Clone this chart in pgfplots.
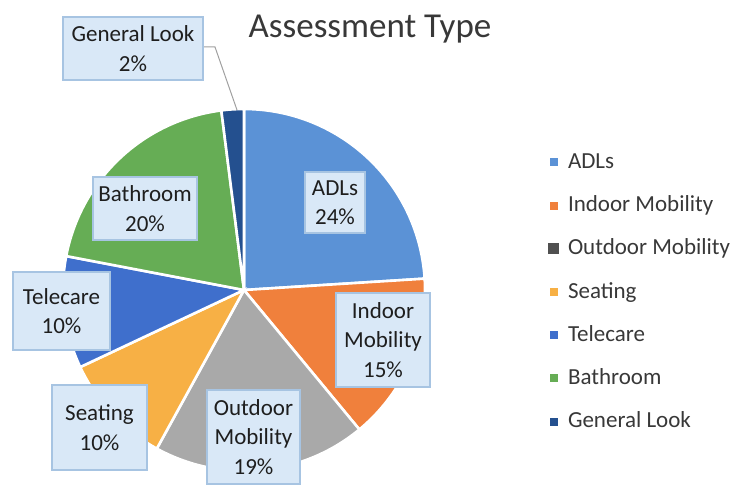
\documentclass[border=0pt]{standalone}
\usepackage{pgfplots}
\pgfplotsset{compat=1.18}
\usepgfplotslibrary{polar}
\usepackage{fontspec}
\setmainfont{Carlito}
\definecolor{cADL}{HTML}{5B92D6}
\definecolor{cInd}{HTML}{F0803C}
\definecolor{cOut}{HTML}{A9A9A9}
\definecolor{cSea}{HTML}{F7B045}
\definecolor{cTel}{HTML}{3F6FCC}
\definecolor{cBat}{HTML}{66AD55}
\definecolor{cGen}{HTML}{24508F}
\definecolor{legOut}{HTML}{505050}
\definecolor{boxfill}{HTML}{D9E8F7}
\definecolor{boxline}{HTML}{A7C4E2}
\definecolor{lbltext}{HTML}{1E1E1E}
\definecolor{legtext}{HTML}{383838}
\definecolor{leader}{HTML}{A0A0A0}
\newcommand\lblfont{\fontsize{11.5bp}{14.75bp}\selectfont}
\begin{document}
\begin{tikzpicture}
% slice values (percent), clockwise from 12 o'clock
\pgfmathsetmacro\aA{90}
\pgfmathsetmacro\aB{\aA-24*3.6}
\pgfmathsetmacro\aC{\aB-15*3.6}
\pgfmathsetmacro\aD{\aC-19*3.6}
\pgfmathsetmacro\aE{\aD-10*3.6}
\pgfmathsetmacro\aF{\aE-10*3.6}
\pgfmathsetmacro\aG{\aF-20*3.6}
\pgfmathsetmacro\aH{\aG-2*3.6}
\begin{scope}[x=0.5bp,y=-0.5bp]
\path[use as bounding box] (0,0) rectangle (742,479);
\end{scope}
\begin{polaraxis}[
  at={(122bp,-145bp)}, anchor=center,
  width=181bp, height=181bp, scale only axis,
  hide axis, clip=false,
  ymin=0, ymax=1,
  legend cell align=left,
  legend style={at={(1.3398,0.884)}, anchor=north west, draw=none, fill=none,
    inner sep=0pt, row sep=10.6bp, column sep=4.5bp,
    font=\fontsize{11.5bp}{13bp}\selectfont, text=legtext,
    nodes={inner sep=0pt, text height=8.5bp, text depth=2.5bp}},
  legend image code/.code={\fill[#1,draw=none] (0bp,-2bp) rectangle (4bp,2bp);},
  slice/.style={draw=white, line width=1.3bp, samples=60},
]
\addplot[slice, fill=cADL, domain=\aB:\aA] {1} -- (axis cs:0,0) -- cycle;
\addlegendentry{ADLs}
\addplot[slice, fill=cInd, domain=\aC:\aB] {1} -- (axis cs:0,0) -- cycle;
\addlegendentry{Indoor Mobility}
\addplot[slice, fill=cOut, domain=\aD:\aC,
  legend image code/.code={\fill[legOut] (0bp,-2bp) rectangle (4bp,2bp);}] {1} -- (axis cs:0,0) -- cycle;
\addlegendentry{Outdoor Mobility}
\addplot[slice, fill=cSea, domain=\aE:\aD] {1} -- (axis cs:0,0) -- cycle;
\addlegendentry{Seating}
\addplot[slice, fill=cTel, domain=\aF:\aE] {1} -- (axis cs:0,0) -- cycle;
\addlegendentry{Telecare}
\addplot[slice, fill=cBat, domain=\aG:\aF] {1} -- (axis cs:0,0) -- cycle;
\addlegendentry{Bathroom}
\addplot[slice, fill=cGen, domain=\aH:\aG] {1} -- (axis cs:0,0) -- cycle;
\addlegendentry{General Look}
\end{polaraxis}
\begin{scope}[x=0.5bp,y=-0.5bp,
  lbl/.style={fill=boxfill, draw=boxline, line width=0.6bp, inner sep=0pt,
    align=center, font=\lblfont, text=lbltext}]
\node[anchor=base, font=\fontsize{17.5bp}{21bp}\selectfont, text=legtext] at (370,38) {Assessment Type};
\draw[leader, line width=0.5bp] (203,47) -- (215,47) -- (237,110);
\node[lbl, minimum width=70bp, minimum height=31.5bp] at (133,48.5) {General Look\\2\%};
\node[lbl, minimum width=30bp, minimum height=30.5bp] at (335,202.5) {ADLs\\24\%};
\node[lbl, minimum width=47bp, minimum height=47bp] at (383,340) {Indoor\\Mobility\\15\%};
\node[lbl, minimum width=46.5bp, minimum height=47bp] at (253.5,437) {Outdoor\\Mobility\\19\%};
\node[lbl, minimum width=47.5bp, minimum height=42.5bp] at (99.5,427.5) {Seating\\10\%};
\node[lbl, minimum width=48.5bp, minimum height=39bp] at (61.5,311) {Telecare\\10\%};
\node[lbl, minimum width=52bp, minimum height=31.5bp] at (145,208.5) {Bathroom\\20\%};
\end{scope}
\end{tikzpicture}
\end{document}
